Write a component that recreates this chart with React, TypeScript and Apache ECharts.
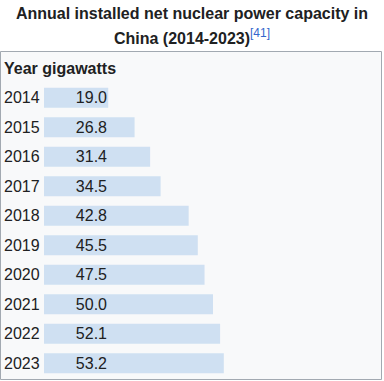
import React, { useEffect, useRef } from "react";
import * as echarts from "echarts";

const years = ["2014", "2015", "2016", "2017", "2018", "2019", "2020", "2021", "2022", "2023"];
const capacityGW = [19.0, 26.8, 31.4, 34.5, 42.8, 45.5, 47.5, 50.0, 52.1, 53.2];
const titleLine1 = "Annual installed net nuclear power capacity in";
const titleLine2 = "China (2014-2023)";
const refMark = "[41]";
const headerYear = "Year";
const headerValue = "gigawatts";

const FONT = "'Liberation Sans', Arial, sans-serif";
const TEXT = "#202122";

export default function App() {
  const ref = useRef<HTMLDivElement>(null);
  useEffect(() => {
    if (!ref.current) return;
    const chart = echarts.init(ref.current, null, { renderer: "svg" });
    chart.setOption({
      animation: false,
      backgroundColor: "#ffffff",
      graphic: [
        {
          type: "rect",
          z: -10,
          shape: { x: 0.5, y: 51.5, width: 381, height: 328 },
          style: { fill: "#f8f9fa", stroke: "#a2a9b1", lineWidth: 1 },
        },
        {
          type: "text",
          x: 192,
          y: 13,
          style: {
            text: titleLine1,
            font: `bold 16px ${FONT}`,
            fill: TEXT,
            align: "center",
            verticalAlign: "middle",
          },
        },
        {
          type: "text",
          x: 192,
          y: 38,
          style: {
            text: `{t|${titleLine2}}{sup|${refMark}}`,
            align: "center",
            verticalAlign: "middle",
            rich: {
              t: { font: `bold 16px ${FONT}`, fill: TEXT, lineHeight: 20, align: "center" },
              sup: { font: `12px ${FONT}`, fill: "#3366cc", lineHeight: 20, padding: [0, 0, 10, 0], align: "center" },
            },
          },
        },
        {
          type: "text",
          x: 4,
          y: 68,
          style: {
            text: `${headerYear} ${headerValue}`,
            font: `bold 16px ${FONT}`,
            fill: TEXT,
            verticalAlign: "middle",
          },
        },
      ],
      grid: { left: 44, right: 2, top: 83, bottom: 3, containLabel: false },
      xAxis: {
        type: "value",
        min: 0,
        max: 100,
        show: false,
      },
      yAxis: {
        type: "category",
        data: years,
        inverse: true,
        axisLine: { show: false },
        axisTick: { show: false },
        splitLine: { show: false },
        axisLabel: {
          align: "left",
          margin: 40,
          fontFamily: FONT,
          fontSize: 16,
          color: TEXT,
        },
      },
      series: [
        {
          type: "bar",
          data: capacityGW,
          barWidth: 20,
          itemStyle: { color: "#cfe0f2" },
          label: {
            show: true,
            position: "insideLeft",
            distance: 0,
            formatter: (p: any) => `{v|${Number(p.value).toFixed(1)}}`,
            rich: {
              v: { width: 63, align: "right", fontFamily: FONT, fontSize: 16, color: TEXT },
            },
          },
        },
      ],
    });
    return () => chart.dispose();
  }, []);
  return (
    <div
      ref={ref}
      style={{ position: "fixed", left: 0, top: 0, width: 384, height: 381 }}
    />
  );
}
